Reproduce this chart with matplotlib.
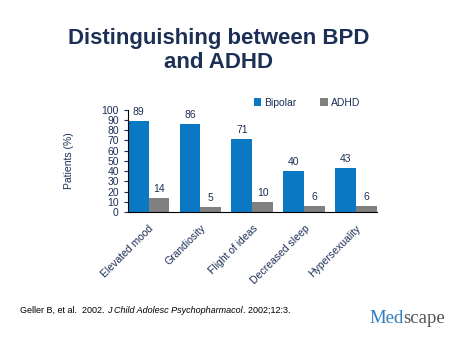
import numpy as np
import matplotlib.pyplot as plt

categories = ['Elevated mood', 'Grandiosity', 'Flight of ideas', 'Decreased sleep', 'Hypersexuality']
bipolar = [89, 86, 71, 40, 43]
adhd = [14, 5, 10, 6, 6]

navy = '#1c2f55'
blue = '#0a78c2'
gray = '#808080'

plt.rcParams['font.family'] = ['Liberation Sans', 'DejaVu Sans']

fig = plt.figure(figsize=(4.5, 3.37), dpi=100)
fig.text(0.485, 0.85, 'Distinguishing between BPD\nand ADHD', ha='center', va='center',
         fontsize=16, fontweight='bold', color=navy, linespacing=1.2)

ax = fig.add_axes([0.284, 0.371, 0.553, 0.303])
x = np.arange(len(categories))
w = 0.4
b1 = ax.bar(x - w / 2, bipolar, w, color=blue, label='Bipolar')
b2 = ax.bar(x + w / 2, adhd, w, color=gray, label='ADHD')
for bars in (b1, b2):
    for r in bars:
        ax.text(r.get_x() + r.get_width() / 2, r.get_height() + 4, f'{int(r.get_height())}',
                ha='center', va='bottom', fontsize=7.5, color=navy)

ax.set_xlim(-0.4, len(categories) - 0.6)
ax.set_ylim(0, 100)
ax.set_yticks(range(0, 101, 10))
ax.set_xticks(x)
ax.set_xticklabels(categories, rotation=45, ha='right', rotation_mode='anchor', fontsize=7.5, color=navy)
ax.tick_params(axis='y', labelsize=7.5, colors=navy, length=3, width=0.8)
ax.tick_params(axis='x', length=0, pad=8)
ax.set_ylabel('Patients (%)', fontsize=7.5, color=navy, labelpad=20)
for s in ('top', 'right'):
    ax.spines[s].set_visible(False)

ax.legend(loc='lower right', bbox_to_anchor=(0.95, 0.98), ncol=2, frameon=False, fontsize=7.5,
          handlelength=0.7, handleheight=0.7, handletextpad=0.3, columnspacing=2.3,
          labelcolor=navy, borderaxespad=0)

t1 = fig.text(0.045, 0.08, 'Geller B, et al.  2002. ', fontsize=6.5, ha='left', va='center')
t2 = fig.text(0, 0, 'J Child Adolesc Psychopharmacol', fontsize=6.5, style='italic',
              ha='left', va='center')
fig.canvas.draw()
r = fig.canvas.get_renderer()
bb = t1.get_window_extent(r).transformed(fig.transFigure.inverted())
t2.set_position((bb.x1, 0.08))
bb2 = t2.get_window_extent(r).transformed(fig.transFigure.inverted())
fig.text(bb2.x1, 0.08, '. 2002;12:3.', fontsize=6.5, ha='left', va='center')

m = fig.text(0.82, 0.056, 'Med', fontsize=13.5, family='Liberation Serif', color='#2d7fc1',
             ha='left', va='center')
fig.canvas.draw()
mb = m.get_window_extent(r).transformed(fig.transFigure.inverted())
fig.text(mb.x1, 0.056, 'scape', fontsize=13.5, family='Liberation Serif', color='#555555',
         ha='left', va='center')

fig.savefig('out.png', dpi=100, facecolor='white')
